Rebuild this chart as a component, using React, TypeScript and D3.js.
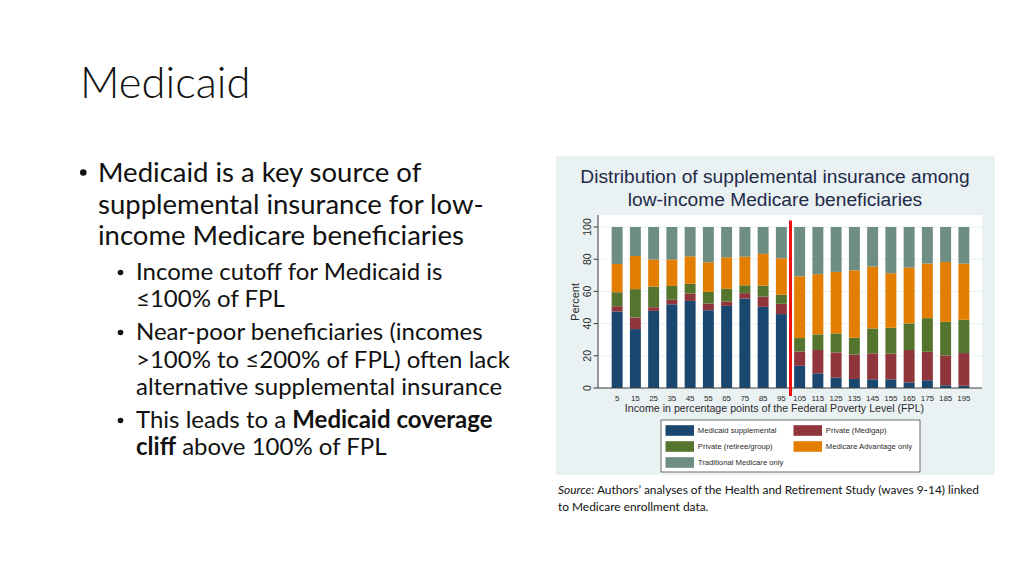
import React from "react";
import * as d3 from "d3";

const categories = [5, 15, 25, 35, 45, 55, 65, 75, 85, 95, 105, 115, 125, 135, 145, 155, 165, 175, 185, 195];
const medicaidSupp = [47.5, 36.6, 47.9, 52.0, 54.1, 48.3, 51.0, 55.6, 50.4, 45.9, 13.8, 9.1, 6.4, 5.6, 5.4, 5.4, 3.5, 4.8, 1.7, 1.4];
const privateMedigap = [3.3, 7.2, 2.3, 2.8, 4.6, 4.2, 2.7, 3.3, 6.4, 6.4, 8.9, 14.5, 15.7, 15.1, 16.1, 15.9, 20.1, 17.7, 18.5, 20.3];
const privateRetiree = [8.7, 17.6, 12.8, 8.6, 6.0, 7.2, 7.9, 4.9, 6.8, 5.6, 8.3, 9.7, 11.8, 10.5, 15.5, 16.1, 16.5, 20.9, 20.9, 20.7];
const advantageOnly = [17.5, 20.6, 16.8, 16.4, 17.1, 18.4, 19.6, 17.8, 19.7, 22.7, 38.4, 37.4, 38.2, 41.9, 38.4, 33.9, 34.7, 33.9, 37.2, 34.9];
const traditionalOnly = [23.0, 18.0, 20.2, 20.2, 18.2, 21.9, 18.8, 18.4, 16.7, 19.4, 30.6, 29.3, 27.9, 26.9, 24.6, 28.7, 25.2, 22.7, 21.7, 22.7];
const yTicks = [0, 20, 40, 60, 80, 100];

const seriesKeys = ["medicaid", "medigap", "retiree", "advantage", "traditional"];
const seriesLabels = ["Medicaid supplemental", "Private (Medigap)", "Private (retiree/group)", "Medicare Advantage only", "Traditional Medicare only"];
const seriesColors = ["#1a476f", "#90353b", "#55752f", "#e37e00", "#6e8e84"];

const rows = categories.map((c, i) => ({
  cat: c,
  medicaid: medicaidSupp[i],
  medigap: privateMedigap[i],
  retiree: privateRetiree[i],
  advantage: advantageOnly[i],
  traditional: traditionalOnly[i],
}));

const bodyFont = "Lato, 'Open Sans', sans-serif";
const chartFont = "'Liberation Sans', Arial, sans-serif";

export default function App() {
  const plotL = 598, plotR = 982, plotT = 215, plotB = 388;
  const x = d3.scaleBand<number>().domain(categories).range([608, 973]).paddingInner(0.4).paddingOuter(0.2);
  const y = d3.scaleLinear().domain([0, 100]).range([388, 227]);
  const stacked = d3.stack<any>().keys(seriesKeys)(rows);
  const cutX = ((x(95) as number) + x.bandwidth() + (x(105) as number)) / 2;

  const legendItems = [
    { i: 0, col: 0, row: 0 },
    { i: 1, col: 1, row: 0 },
    { i: 2, col: 0, row: 1 },
    { i: 3, col: 1, row: 1 },
    { i: 4, col: 0, row: 2 },
  ];

  const mainFs = 27.5;
  const subFs = 24;

  return (
    <svg width={1024} height={576} style={{ position: "absolute", left: 0, top: 0, background: "#fff" }}>
      <rect x={0} y={0} width={1024} height={576} fill="#ffffff" />
      {/* Slide title */}
      <text x={80} y={98} fontFamily={bodyFont} fontWeight={300} fontSize={43.5} fill="#111111">Medicaid</text>

      {/* Bullets */}
      <g fontFamily={bodyFont} fill="#111111">
        <circle cx={83.3} cy={172.5} r={3.3} />
        <text x={98} y={182} fontSize={mainFs}>Medicaid is a key source of</text>
        <text x={98} y={213.5} fontSize={mainFs}>supplemental insurance for low-</text>
        <text x={98} y={245} fontSize={mainFs}>income Medicare beneficiaries</text>

        <circle cx={120.5} cy={272.5} r={2.8} />
        <text x={136} y={280} fontSize={subFs}>Income cutoff for Medicaid is</text>
        <text x={136} y={307} fontSize={subFs}>≤100% of FPL</text>
        <circle cx={120.5} cy={332.5} r={2.8} />
        <text x={136} y={340} fontSize={subFs}>Near-poor beneficiaries (incomes</text>
        <text x={136} y={367.5} fontSize={subFs}>&gt;100% to ≤200% of FPL) often lack</text>
        <text x={136} y={395} fontSize={subFs}>alternative supplemental insurance</text>
        <circle cx={120.5} cy={420.5} r={2.8} />
        <text x={136} y={428} fontSize={subFs}>This leads to a <tspan fontWeight={700}>Medicaid coverage</tspan></text>
        <text x={136} y={455} fontSize={subFs}><tspan fontWeight={700}>cliff</tspan> above 100% of FPL</text>
      </g>

      {/* Chart panel */}
      <rect x={556} y={156} width={439} height={319} fill="#eaf1f3" />
      <text x={775} y={183} textAnchor="middle" fontFamily={chartFont} fontSize={19.2} fill="#1e2a48">Distribution of supplemental insurance among</text>
      <text x={775} y={206} textAnchor="middle" fontFamily={chartFont} fontSize={19.2} fill="#1e2a48">low-income Medicare beneficiaries</text>

      <rect x={plotL} y={plotT} width={plotR - plotL} height={plotB - plotT} fill="#ffffff" />
      {yTicks.filter(t => t > 0).map(t => (
        <line key={"g" + t} x1={plotL} x2={plotR} y1={y(t)} y2={y(t)} stroke="#eaf1f3" strokeWidth={1} />
      ))}

      {stacked.map((s, si) => (
        <g key={s.key} fill={seriesColors[si]}>
          {s.map((d, di) => (
            <rect key={di} x={x(categories[di]) as number} width={x.bandwidth()} y={y(d[1])} height={y(d[0]) - y(d[1])} />
          ))}
        </g>
      ))}

      {/* axes */}
      <line x1={plotL} x2={plotL} y1={plotT} y2={plotB} stroke="#3a3a3a" strokeWidth={1} />
      <line x1={plotL} x2={plotR} y1={plotB} y2={plotB} stroke="#3a3a3a" strokeWidth={1} />
      {yTicks.map(t => (
        <g key={"t" + t}>
          <line x1={plotL - 4.5} x2={plotL} y1={y(t)} y2={y(t)} stroke="#3a3a3a" strokeWidth={1} />
          <text transform={`translate(591,${y(t)}) rotate(-90)`} textAnchor="middle" fontFamily={chartFont} fontSize={10.5} fill="#2a2a2a">{t}</text>
        </g>
      ))}
      <text transform={`translate(579,302) rotate(-90)`} textAnchor="middle" fontFamily={chartFont} fontSize={11} fill="#2a2a2a">Percent</text>

      {categories.map(c => (
        <text key={"x" + c} x={(x(c) as number) + x.bandwidth() / 2} y={400.5} textAnchor="middle" fontFamily={chartFont} fontSize={8} fill="#2a2a2a">{c}</text>
      ))}
      <text x={774.5} y={411.5} textAnchor="middle" fontFamily={chartFont} fontSize={10.65} fill="#2a2a2a">Income in percentage points of the Federal Poverty Level (FPL)</text>

      {/* cutoff line */}
      <line x1={cutX} x2={cutX} y1={220.5} y2={396} stroke="#ee1111" strokeWidth={3} />

      {/* legend */}
      <rect x={661} y={420} width={259} height={52} fill="#ffffff" stroke="#4a4a4a" strokeWidth={0.8} />
      {legendItems.map(li => {
        const sx = li.col === 0 ? 665.5 : 793.5;
        const cy = 430.5 + li.row * 16;
        return (
          <g key={"l" + li.i}>
            <rect x={sx} y={cy - 5.3} width={28.5} height={10.6} fill={seriesColors[li.i]} />
            <text x={sx + 32.3} y={cy + 2.8} fontFamily={chartFont} fontSize={7.7} fill="#2a2a2a">{seriesLabels[li.i]}</text>
          </g>
        );
      })}

      {/* source */}
      <g fontFamily={bodyFont} fontSize={11.9} fill="#111111">
        <text x={558} y={494}><tspan fontStyle="italic">Source:</tspan> Authors’ analyses of the Health and Retirement Study (waves 9-14) linked</text>
        <text x={558} y={510.5}>to Medicare enrollment data.</text>
      </g>
    </svg>
  );
}
